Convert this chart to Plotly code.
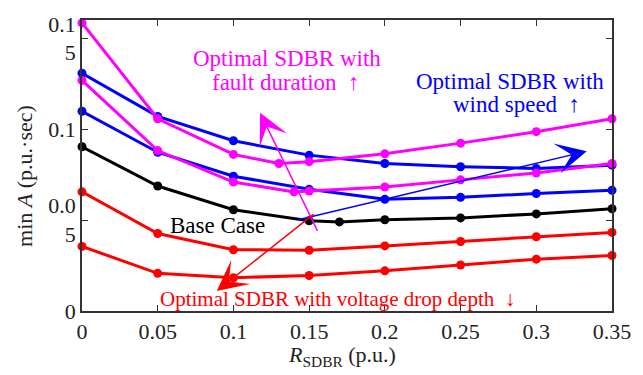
import plotly.graph_objects as go

# R_SDBR sweep (p.u.) and min A (p.u.·sec) for each case
x_base = [0, 0.05, 0.1, 0.15, 0.17, 0.2, 0.25, 0.3, 0.35]
y_base = [0.0903, 0.0687, 0.0557, 0.0496, 0.0490, 0.0502, 0.0512, 0.0534, 0.0562]

x_volt = [0, 0.05, 0.1, 0.15, 0.2, 0.25, 0.3, 0.35]
y_volt_hi = [0.0655, 0.0426, 0.0337, 0.0334, 0.0358, 0.0382, 0.0408, 0.0432]
y_volt_lo = [0.0355, 0.0207, 0.0183, 0.0195, 0.0221, 0.0253, 0.0285, 0.0305]

x_fault_hi = [0, 0.05, 0.1, 0.13, 0.15, 0.2, 0.25, 0.3, 0.35]
y_fault_hi = [0.1584, 0.1057, 0.0861, 0.0811, 0.0821, 0.0864, 0.0923, 0.0986, 0.1057]
x_fault_lo = [0, 0.05, 0.1, 0.14, 0.15, 0.2, 0.25, 0.3, 0.35]
y_fault_lo = [0.1268, 0.0882, 0.0709, 0.0655, 0.0660, 0.0682, 0.0721, 0.0759, 0.0811]

x_wind = [0, 0.05, 0.1, 0.15, 0.2, 0.25, 0.3, 0.35]
y_wind_hi = [0.1307, 0.1070, 0.0936, 0.0857, 0.0811, 0.0793, 0.0784, 0.0802]
y_wind_lo = [0.1098, 0.0873, 0.0741, 0.0669, 0.0614, 0.0625, 0.0646, 0.0664]

x_ticks = [0, 0.05, 0.1, 0.15, 0.2, 0.25, 0.3, 0.35]
x_ticklabels = ["0", "0.05", "0.1", "0.15", "0.2", "0.25", "0.3", "0.35"]
y_ticks = [0, 0.05, 0.1, 0.15]
y_ticklabels = ["0", "0.0<br>5", "0.1", "0.1<br>5"]

FONT = "Liberation Serif"
MAGENTA = "#FF00FF"
BLUE = "#0000FF"
RED = "#FF0000"
BLACK = "#000000"

series = [
    (x_volt, y_volt_lo, RED),
    (x_volt, y_volt_hi, RED),
    (x_base, y_base, BLACK),
    (x_wind, y_wind_lo, BLUE),
    (x_wind, y_wind_hi, BLUE),
    (x_fault_lo, y_fault_lo, MAGENTA),
    (x_fault_hi, y_fault_hi, MAGENTA),
]

fig = go.Figure()
for xs, ys, c in series:
    fig.add_trace(go.Scatter(
        x=xs, y=ys, mode="lines+markers",
        line=dict(color=c, width=3),
        marker=dict(color=c, size=9),
        cliponaxis=False, showlegend=False,
    ))

# trend arrows (tip at x,y ; tail at ax,ay)
arrows = [
    (0.1176, 0.1090, 0.1560, 0.0432, MAGENTA),
    (0.3333, 0.0878, 0.1418, 0.0500, BLUE),
    (0.0890, 0.0110, 0.1540, 0.0539, RED),
]
annotations = []
for tx, ty, sx, sy, c in arrows:
    annotations.append(dict(
        x=tx, y=ty, ax=sx, ay=sy, xref="x", yref="y", axref="x", ayref="y",
        showarrow=True, arrowhead=3, arrowsize=3.4, arrowwidth=1.5,
        arrowcolor=c, text="", standoff=0,
    ))

labels = [
    ("Optimal SDBR with", 0.1353, 0.1388, MAGENTA, 23),
    ("fault duration \u00a0↑", 0.1350, 0.1254, MAGENTA, 23),
    ("Optimal SDBR with", 0.2827, 0.1263, BLUE, 23),
    ("wind speed \u00a0↑", 0.2867, 0.1138, BLUE, 23),
    ("Base Case", 0.0898, 0.0469, BLACK, 23),
    ("Optimal SDBR with voltage drop depth \u00a0↓", 0.1690, 0.0067, RED, 21),
]
for t, lx, ly, c, fs in labels:
    annotations.append(dict(
        x=lx, y=ly, xref="x", yref="y", text=t, showarrow=False,
        xanchor="center", yanchor="middle",
        font=dict(family=FONT, size=fs, color=c),
    ))

# axis titles
annotations.append(dict(
    x=-0.109, y=0.465, xref="paper", yref="paper",
    text="min <i>A</i> (p.u.·sec)", textangle=-90, showarrow=False,
    xanchor="center", yanchor="middle",
    font=dict(family=FONT, size=22, color="#222222"),
))
annotations.append(dict(
    x=0.49, y=-0.153, xref="paper", yref="paper",
    text="<i>R</i><sub>SDBR</sub> (p.u.)", showarrow=False,
    xanchor="center", yanchor="middle",
    font=dict(family=FONT, size=22, color="#222222"),
))

axis_common = dict(
    showgrid=False, zeroline=False, showline=True, linecolor="#333333",
    linewidth=1.5, mirror="ticks", ticks="inside", ticklen=6,
    tickcolor="#333333", tickfont=dict(family=FONT, size=22, color="#222222"),
)

fig.update_layout(
    width=643, height=375,
    margin=dict(l=82, r=31, t=12, b=64),
    plot_bgcolor="white", paper_bgcolor="white",
    font=dict(family=FONT),
    xaxis=dict(range=[0, 0.35], tickvals=x_ticks, ticktext=x_ticklabels, **axis_common),
    yaxis=dict(range=[0, 0.16], tickvals=y_ticks, ticktext=y_ticklabels, **axis_common),
    annotations=annotations,
)

fig.write_html("out.html")
